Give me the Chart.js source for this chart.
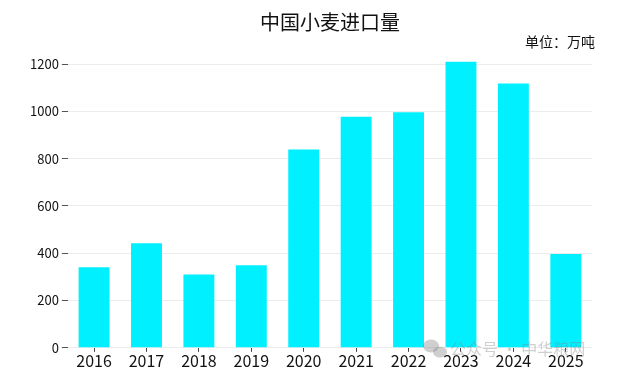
<!DOCTYPE html>
<html>
<head>
<meta charset="utf-8">
<script src="https://cdn.jsdelivr.net/npm/chart.js@4.4.0/dist/chart.umd.min.js"></script>
<style>
  html, body { margin: 0; padding: 0; background: #fff; }
  #wrap { width: 618px; height: 388px; }
</style>
</head>
<body>
<div id="wrap"><canvas id="c" width="618" height="388"></canvas></div>
<script>
// ── 資料 ────────────────────────────────────────────────
const years   = ['2016','2017','2018','2019','2020','2021','2022','2023','2024','2025'];
const imports = [341, 442, 310, 349, 838, 977, 996, 1210, 1118, 397];
const yTicks  = [0, 200, 400, 600, 800, 1000, 1200];

const TITLE = '中国小麦进口量';
const UNIT  = '单位：万吨';
const FONT  = '"Noto Sans CJK SC", "Noto Sans", sans-serif';

// 標題、單位與水印
const decorations = {
  id: 'decorations',
  afterDraw(chart) {
    const ctx = chart.ctx;
    ctx.save();
    ctx.fillStyle = '#111';
    ctx.textBaseline = 'middle';
    ctx.textAlign = 'center';
    ctx.font = '20px ' + FONT;
    ctx.fillText(TITLE, 330, 22);
    ctx.textAlign = 'right';
    ctx.font = '14px ' + FONT;
    ctx.fillText(UNIT, 595, 42);

    // 水印
    ctx.globalAlpha = 0.4;
    ctx.fillStyle = '#888';
    ctx.beginPath();
    ctx.ellipse(431, 346, 8, 6.5, 0, 0, Math.PI * 2);
    ctx.fill();
    ctx.beginPath();
    ctx.ellipse(440, 352, 7, 5.5, 0, 0, Math.PI * 2);
    ctx.fill();
    ctx.textAlign = 'left';
    ctx.font = '16px ' + FONT;
    ctx.fillText('公众号 · 中华粮网', 450, 349);
    ctx.restore();
  }
};

new Chart(document.getElementById('c'), {
  type: 'bar',
  data: {
    labels: years,
    datasets: [{
      data: imports,
      backgroundColor: '#00F0FF',
      categoryPercentage: 0.59,
      barPercentage: 1,
      clip: false
    }]
  },
  options: {
    responsive: false,
    animation: false,
    layout: { padding: { left: 27, right: 26, top: 64, bottom: 17 } },
    plugins: {
      legend: { display: false },
      tooltip: { enabled: false },
      title: { display: false }
    },
    scales: {
      x: {
        grid: { drawOnChartArea: false, offset: false, tickColor: '#444', tickLength: 4 },
        border: { display: false },
        ticks: { color: '#111', font: { family: FONT, size: 16 }, padding: 0 }
      },
      y: {
        min: 0,
        max: 1200,
        afterBuildTicks(axis) { axis.ticks = yTicks.map(v => ({ value: v })); },
        grid: { color: '#ececec', tickColor: '#555', tickLength: 6 },
        border: { display: false },
        ticks: {
          color: '#111',
          font: { family: FONT, size: 13 },
          padding: 3,
          callback: v => String(v)
        }
      }
    }
  },
  plugins: [decorations]
});
</script>
</body>
</html>
